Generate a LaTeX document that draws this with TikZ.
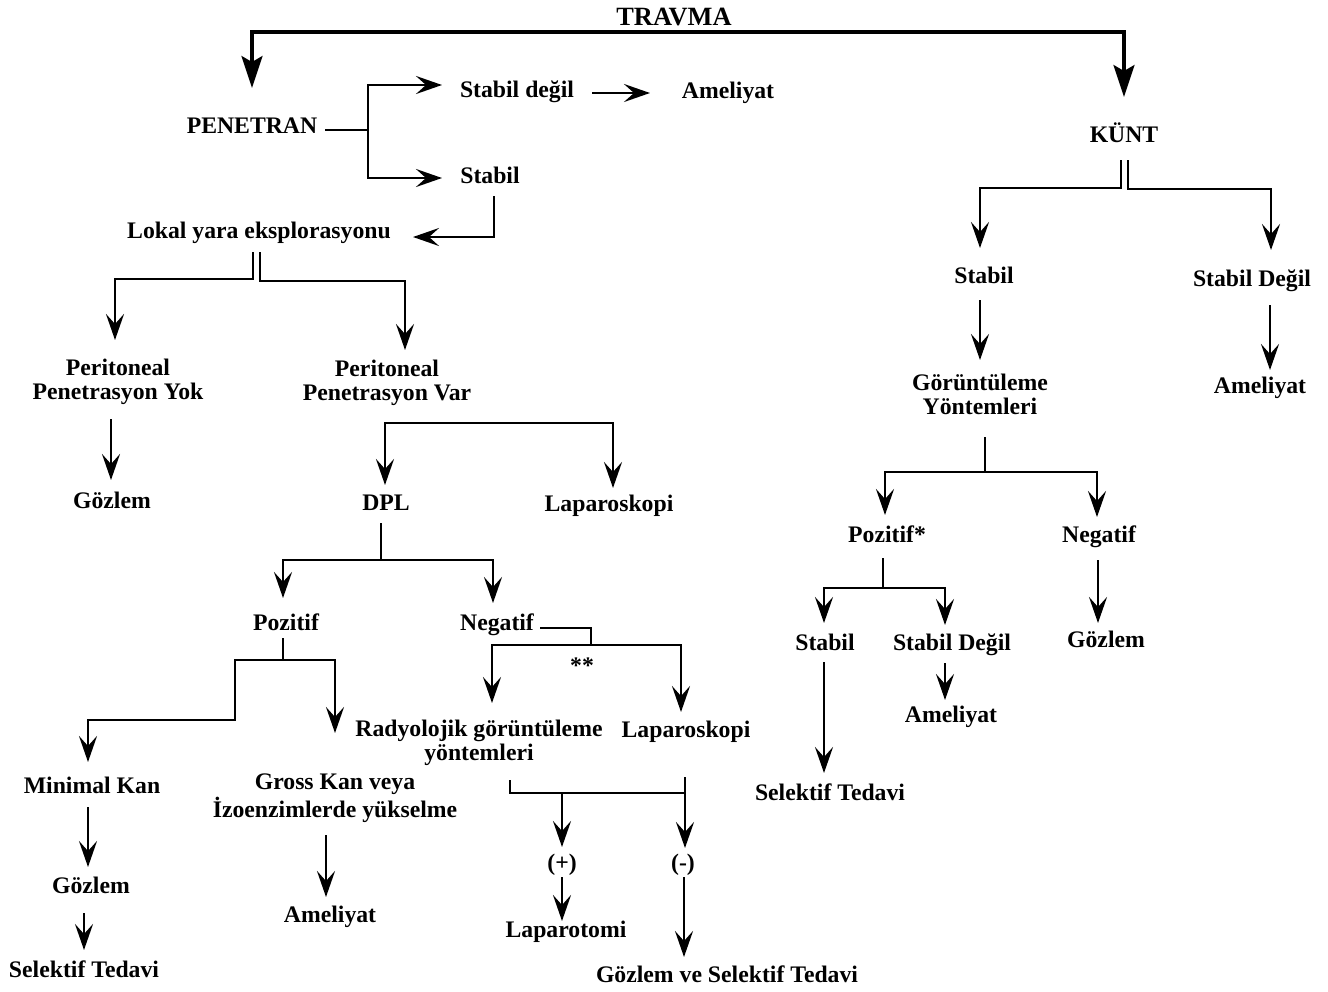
\documentclass[tikz,border=0pt]{standalone}
\usepackage{fontspec}
\setmainfont{Liberation Serif}
\usetikzlibrary{arrows.meta,calc}
\begin{document}
\begin{tikzpicture}[x=0.02cm,y=-0.02cm,
  lbl/.style={inner sep=0pt, anchor=base, font=\fontsize{13.5}{13.6}\selectfont\bfseries},
  lbl2/.style={lbl, align=center},
  ln/.style={line width=1.6pt},
  arr/.style={ln, -{Stealth[length=0.52cm,width=0.36cm,inset=0.2cm]}},
  bigarr/.style={line width=1.8pt, -{Stealth[length=0.64cm,width=0.42cm,inset=0.12cm]}}]
\fill[white] (0,0) rectangle (1328,991);
\useasboundingbox (0,0) rectangle (1328,991);

% nodes (multi-line nodes placed by the baseline of their last line)
\node[lbl, font=\fontsize{15}{16}\selectfont\bfseries] (TR) at (674,25) {TRAVMA};
\node[lbl] (PEN) at (252,133) {PENETRAN};
\node[lbl] (SD1) at (517,97) {Stabil değil};
\node[lbl] (AM1) at (728,98) {Ameliyat};
\node[lbl] (ST1) at (490,183) {Stabil};
\node[lbl] (LYE) at (259,238) {Lokal yara eksplorasyonu};
\node[lbl] (KUNT) at (1124,142) {KÜNT};
\node[lbl] (ST2) at (984,283) {Stabil};
\node[lbl] (SD2) at (1252,286) {Stabil Değil};
\node[lbl2] (GY) at (980,414) {Görüntüleme\\Yöntemleri};
\node[lbl] (AM2) at (1260,393) {Ameliyat};
\node[lbl2] (PPY) at (118,399) {Peritoneal\\Penetrasyon Yok};
\node[lbl2] (PPV) at (387,400) {Peritoneal\\Penetrasyon Var};
\node[lbl] (GZ1) at (112,508) {Gözlem};
\node[lbl] (DPL) at (386,510) {DPL};
\node[lbl] (LAP1) at (609,511) {Laparoskopi};
\node[lbl] (POZ1) at (286,630) {Pozitif};
\node[lbl] (NEG1) at (497,630) {Negatif};
\node[lbl] (STAR) at (582,673) {**};
\node[lbl2] (RAD) at (479,760) {Radyolojik görüntüleme\\yöntemleri};
\node[lbl] (LAP2) at (686,737) {Laparoskopi};
\node[lbl] (MK) at (92,793) {Minimal Kan};
\node[lbl2] (GK) at (335,817) {Gross Kan veya\\İzoenzimlerde yükselme};
\node[lbl] (GZ2) at (91,893) {Gözlem};
\node[lbl] (SEL1) at (84,977) {Selektif Tedavi};
\node[lbl] (AM3) at (330,922) {Ameliyat};
\node[lbl] (PLUS) at (562,870) {(+)};
\node[lbl] (MINUS) at (683,870) {(-)};
\node[lbl] (LAPT) at (566,937) {Laparotomi};
\node[lbl] (GST) at (727,982) {Gözlem ve Selektif Tedavi};
\node[lbl] (POZ2) at (887,542) {Pozitif*};
\node[lbl] (NEG2) at (1099,542) {Negatif};
\node[lbl] (ST3) at (825,650) {Stabil};
\node[lbl] (SD3) at (952,650) {Stabil Değil};
\node[lbl] (GZ3) at (1106,647) {Gözlem};
\node[lbl] (AM4) at (951,722) {Ameliyat};
\node[lbl] (SEL2) at (830,800) {Selektif Tedavi};

% TRAVMA split
\draw[bigarr] ($(TR.base)+(450,7)$) -| ($(PEN.base)+(0,-45)$);
\draw[bigarr] ($(TR.base)+(-422,7)$) -| ($(KUNT.base)+(0,-45)$);

% PENETRAN split
\draw[arr] ($(PEN.base)+(73,-3)$) -- ++(43,0) |- ($(SD1.base)+(-75,-12)$);
\draw[arr] ($(PEN.base)+(73,-3)$) -- ++(43,0) |- ($(ST1.base)+(-48,-5)$);
\draw[arr] ($(SD1.base)+(75,-4)$) -- ($(AM1.base)+(-78,-5)$);
\draw[arr] ($(ST1.base)+(4,13)$) |- ($(LYE.base)+(154,-1)$);

% Lokal yara split
\draw[arr] ($(LYE.base)+(-6,14)$) -- ++(0,27) -| ($(PPY.base)+(-3,-59)$);
\draw[arr] ($(LYE.base)+(1,14)$) -- ++(0,29) -| ($(PPV.base)+(18,-50)$);
\draw[arr] ($(PPY.base)+(-7,20)$) -- ($(GZ1.base)+(-1,-28)$);

% Penetrasyon Var split
\draw[arr] ($(PPV.base)+(226,23)$) -| ($(DPL.base)+(-1,-25)$);
\draw[arr] ($(PPV.base)+(-2,23)$) -| ($(LAP1.base)+(4,-23)$);

% DPL split
\draw[arr] ($(DPL.base)+(-5,13)$) -- ++(0,37) -| ($(POZ1.base)+(-3,-32)$);
\draw[arr] ($(DPL.base)+(-5,13)$) -- ++(0,37) -| ($(NEG1.base)+(-4,-27)$);

% Negatif split
\draw[arr] ($(NEG1.base)+(43,-2)$) -| ++(51,17) -| ($(RAD.base)+(13,-57)$);
\draw[arr] ($(NEG1.base)+(43,-2)$) -| ++(51,17) -| ($(LAP2.base)+(-5,-25)$);

% Pozitif split
\draw[arr] ($(POZ1.base)+(-3,8)$) -- ++(0,22) -| ($(GK.base)+(0,-84)$);
\draw[arr] ($(POZ1.base)+(-3,8)$) -- ++(0,22) -| ++(-48,60) -| ($(MK.base)+(-4,-31)$);
\draw[arr] ($(MK.base)+(-4,14)$) -- ($(GZ2.base)+(-3,-26)$);
\draw[arr] ($(GZ2.base)+(-7,20)$) -- ($(SEL1.base)+(0,-27)$);
\draw[arr] ($(GK.base)+(-9,18)$) -- ($(AM3.base)+(-4,-25)$);

% Radyolojik split
\draw[ln] ($(RAD.base)+(31,20)$) |- ($(LAP2.base)+(-1,56)$);
\draw[arr] ($(LAP2.base)+(-1,40)$) -- ($(MINUS.base)+(2,-22)$);
\draw[arr] ($(RAD.base)+(83,33)$) -- ($(PLUS.base)+(0,-23)$);
\draw[arr] ($(PLUS.base)+(0,7)$) -- ($(LAPT.base)+(-4,-16)$);
\draw[arr] ($(MINUS.base)+(1,7)$) -- ($(GST.base)+(-43,-25)$);

% KUNT split
\draw[arr] ($(KUNT.base)+(-3,18)$) -- ++(0,28) -| ($(ST2.base)+(-4,-35)$);
\draw[arr] ($(KUNT.base)+(4,18)$) -- ++(0,29) -| ($(SD2.base)+(19,-36)$);
\draw[arr] ($(ST2.base)+(-4,17)$) -- ($(GY.base)+(0,-54)$);
\draw[arr] ($(SD2.base)+(18,19)$) -- ($(AM2.base)+(10,-23)$);

% Goruntuleme split
\draw[arr] ($(GY.base)+(5,23)$) -- ++(0,35) -| ($(POZ2.base)+(-2,-27)$);
\draw[arr] ($(GY.base)+(5,23)$) -- ++(0,35) -| ($(NEG2.base)+(-2,-25)$);

% Pozitif* split
\draw[arr] ($(POZ2.base)+(-4,16)$) -- ++(0,30) -| ($(ST3.base)+(-1,-27)$);
\draw[arr] ($(POZ2.base)+(-4,16)$) -- ++(0,30) -| ($(SD3.base)+(-7,-25)$);
\draw[arr] ($(NEG2.base)+(-1,18)$) -- ($(GZ3.base)+(-8,-24)$);
\draw[arr] ($(ST3.base)+(-1,12)$) -- ($(SEL2.base)+(-6,-27)$);
\draw[arr] ($(SD3.base)+(-7,13)$) -- ($(AM4.base)+(-6,-22)$);
\end{tikzpicture}
\end{document}
